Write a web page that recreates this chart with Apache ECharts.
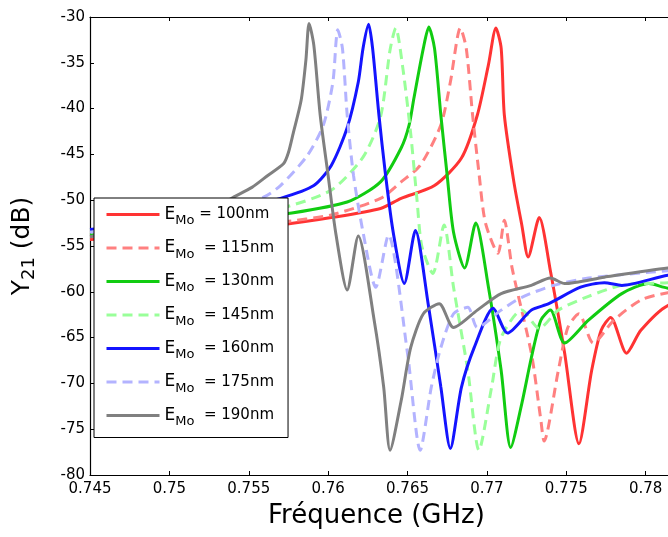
<!DOCTYPE html>
<html>
<head>
<meta charset="utf-8">
<script src="https://cdn.jsdelivr.net/npm/echarts@6/dist/echarts.min.js"></script>
<style>
html,body{margin:0;padding:0;background:#fff;}
#chart{width:668px;height:537px;}
</style>
</head>
<body>
<div id="chart"></div>
<script>
// ---- data (frequency in GHz, Y21 in dB) ----
const xTicks = [0.745, 0.75, 0.755, 0.76, 0.765, 0.77, 0.775, 0.78, 0.785];
const yTicks = [-80, -75, -70, -65, -60, -55, -50, -45, -40, -35, -30];

const f100 = [0.745,0.750,0.754,0.757,0.7602,0.7633,0.7646,0.7667,0.7684,0.7694,0.7701,0.77057,0.7709,0.7711,0.7717,0.7722,0.7726,0.7733,0.7740,0.7749,0.7758,0.7766,0.7772,0.7778,0.7788,0.7797,0.7814,0.785];
const y100 = [-54.3,-53.8,-53.2,-52.7,-51.9,-50.9,-49.8,-48.4,-45.4,-40.7,-35.2,-31.2,-33.4,-40.7,-48.0,-52.7,-56.2,-51.9,-57.7,-66.7,-76.6,-68.6,-64.2,-62.8,-66.7,-64.2,-61.5,-59.8];

const f115 = [0.745,0.750,0.754,0.757,0.7602,0.7633,0.7646,0.7658,0.7671,0.7677,0.76833,0.7687,0.7691,0.7695,0.7699,0.7707,0.7711,0.7716,0.7728,0.7734,0.7736,0.7745,0.7751,0.7758,0.7767,0.7780,0.7797,0.7814,0.785];
const y115 = [-54.0,-53.4,-52.9,-52.4,-51.6,-49.8,-48.0,-46.2,-41.8,-37.1,-31.2,-33.4,-40.7,-47.0,-52.4,-55.8,-52.2,-57.5,-66.7,-74.0,-76.3,-68.6,-63.9,-62.4,-65.6,-63.1,-60.9,-60.1,-59.2];

const f130 = [0.745,0.750,0.754,0.757,0.7612,0.7633,0.7646,0.7651,0.7654,0.7660,0.76634,0.7667,0.7671,0.7675,0.7679,0.7686,0.7693,0.7701,0.7709,0.7715,0.7722,0.7728,0.7734,0.7740,0.7749,0.7764,0.7785,0.7802,0.7814,0.785];
const y130 = [-53.8,-53.0,-52.3,-51.6,-50.2,-48.0,-44.3,-41.8,-38.9,-33.4,-31.1,-33.4,-40.7,-47.3,-53.5,-57.4,-52.5,-59.5,-68.6,-77.0,-72.2,-67.2,-63.1,-62.0,-65.6,-63.1,-60.2,-59.1,-59.6,-59.8];

const f145 = [0.745,0.750,0.754,0.757,0.7602,0.7622,0.7633,0.7639,0.76426,0.7647,0.7652,0.7656,0.7659,0.7666,0.7673,0.7679,0.7688,0.7695,0.7703,0.7709,0.7722,0.7733,0.7745,0.7764,0.7785,0.7814,0.785];
const y145 = [-53.3,-52.5,-51.7,-50.9,-48.9,-45.3,-40.9,-33.6,-31.2,-35.5,-42.7,-50.0,-55.0,-58.0,-52.7,-59.5,-68.6,-77.3,-70.4,-65.0,-62.0,-64.0,-62.0,-60.5,-59.3,-59.0,-58.6];

const f160 = [0.745,0.750,0.7545,0.757,0.7591,0.7602,0.7612,0.7619,0.7622,0.76255,0.7628,0.7632,0.7636,0.7641,0.7648,0.7655,0.7663,0.7671,0.7677,0.7684,0.7692,0.7704,0.7713,0.7728,0.7739,0.7759,0.7774,0.7785,0.7814,0.785];
const y160 = [-53.2,-52.2,-50.8,-49.8,-48.4,-46.2,-42.1,-37.1,-33.4,-30.8,-33.4,-40.7,-47.0,-53.5,-59.1,-53.3,-61.3,-70.4,-77.1,-70.4,-66.1,-61.8,-64.5,-62.0,-61.3,-59.5,-59.0,-59.3,-58.2,-57.6];

const f175 = [0.745,0.750,0.753,0.7559,0.7570,0.7587,0.7597,0.7603,0.7605,0.7606,0.7609,0.7612,0.7616,0.7622,0.7630,0.7638,0.7650,0.7658,0.7665,0.7671,0.7679,0.7688,0.7694,0.7709,0.7722,0.7742,0.7764,0.7814,0.785];
const y175 = [-53.5,-52.3,-51.2,-49.7,-48.4,-45.1,-41.8,-37.1,-32.7,-31.4,-33.4,-40.7,-47.3,-53.5,-59.5,-53.8,-66.7,-77.3,-70.4,-66.1,-62.4,-61.7,-63.9,-62.0,-60.6,-59.3,-58.5,-57.7,-57.3];

const f190 = [0.745,0.748,0.751,0.753,0.754,0.7552,0.7562,0.7572,0.7575,0.7578,0.7583,0.7586,0.7588,0.7591,0.7595,0.7600,0.7605,0.7612,0.7619,0.7629,0.7635,0.7639,0.7646,0.7652,0.7660,0.7670,0.7679,0.7694,0.7709,0.7728,0.7740,0.7749,0.7774,0.7814,0.785];
const y190 = [-54.0,-53.0,-51.7,-50.7,-49.7,-48.6,-47.3,-46.0,-44.8,-42.7,-39.1,-34.7,-30.7,-33.1,-40.7,-47.3,-53.8,-59.8,-53.9,-63.1,-70.4,-77.3,-71.9,-66.1,-62.4,-61.3,-63.9,-62.0,-60.2,-59.3,-58.5,-59.1,-58.4,-57.4,-56.9];

const names = ['100nm','115nm','130nm','145nm','160nm','175nm','190nm'];
const xs = [f100,f115,f130,f145,f160,f175,f190];
const ys = [y100,y115,y130,y145,y160,y175,y190];
const colors = ['#ff3333','#ff8080','#11cc11','#99ff99','#1414ff','#b3b3ff','#808080'];
const dashed = [false,true,false,true,false,true,false];

const FONT = 'DejaVu Sans';

const series = names.map((n, i) => ({
  name: n,
  type: 'line',
  data: xs[i].map((x, k) => [x, ys[i][k]]),
  showSymbol: false,
  symbol: 'none',
  smooth: 0.25,
  clip: true,
  lineStyle: { color: colors[i], width: 3, type: dashed[i] ? [10, 6] : 'solid' },
  itemStyle: { color: colors[i] },
  animation: false
}));

const chart = echarts.init(document.getElementById('chart'), null, { renderer: 'canvas' });
chart.setOption({
  animation: false,
  backgroundColor: '#fff',
  grid: { left: 90, top: 17, right: -57, bottom: 62, containLabel: false, outerBoundsMode: 'none' },
  xAxis: [{
    type: 'value', min: xTicks[0], max: xTicks[xTicks.length - 1], interval: 0.005,
    position: 'bottom',
    axisLine: { show: true, onZero: false, lineStyle: { color: '#000', width: 1.2 } },
    axisTick: { show: true, inside: true, length: 4, lineStyle: { color: '#000' } },
    axisLabel: { color: '#000', fontFamily: FONT, fontSize: 15, margin: 7,
      formatter: v => String(parseFloat(v.toFixed(3))) },
    splitLine: { show: false }
  }, {
    type: 'value', min: xTicks[0], max: xTicks[xTicks.length - 1], interval: 0.005,
    position: 'top',
    axisLine: { show: true, onZero: false, lineStyle: { color: '#000', width: 1.2 } },
    axisTick: { show: true, inside: true, length: 4, lineStyle: { color: '#000' } },
    axisLabel: { show: false },
    splitLine: { show: false }
  }],
  yAxis: [{
    type: 'value', min: yTicks[0], max: yTicks[yTicks.length - 1], interval: 5,
    axisLine: { show: true, onZero: false, lineStyle: { color: '#000', width: 1.2 } },
    axisTick: { show: true, inside: true, length: 4, lineStyle: { color: '#000' } },
    axisLabel: { color: '#000', fontFamily: FONT, fontSize: 15, margin: 5 },
    splitLine: { show: false },
    name: '{y|Y}{s|21}{y| (dB)}',
    nameLocation: 'middle',
    nameRotate: 90,
    nameGap: 52,
    nameTextStyle: {
      color: '#000', fontFamily: FONT, fontSize: 25,
      rich: {
        y: { fontFamily: FONT, fontSize: 25, color: '#000' },
        s: { fontFamily: FONT, fontSize: 18, color: '#000', padding: [14, 0, 0, 0] }
      }
    }
  }],
  legend: {
    orient: 'vertical',
    left: 94, top: 198,
    backgroundColor: '#fff',
    borderColor: '#000', borderWidth: 1,
    borderRadius: 0,
    padding: [8, 14, 9, 11],
    itemWidth: 53, itemHeight: 14,
    itemGap: 12,
    itemStyle: { color: 'transparent', borderWidth: 0, opacity: 0 },
    lineStyle: { width: 3 },
    data: names,
    formatter: n => n === '100nm' ? '{e|E}{s|Mo}{t| = ' + n + '}' : '{e|E}{s|Mo}{t|  = ' + n + '}',
    textStyle: {
      color: '#000', fontFamily: FONT, fontSize: 15,
      rich: {
        e: { fontFamily: FONT, fontSize: 17, color: '#000' },
        s: { fontFamily: FONT, fontSize: 13, color: '#000', padding: [13, 0, 0, 0] },
        t: { fontFamily: FONT, fontSize: 15, color: '#000' }
      }
    }
  },
  graphic: [{
    type: 'text', left: 268, top: 503,
    style: { text: 'Fréquence (GHz)', font: '26px "DejaVu Sans"', fill: '#000' }
  }],
  series: series
});
</script>
</body>
</html>
